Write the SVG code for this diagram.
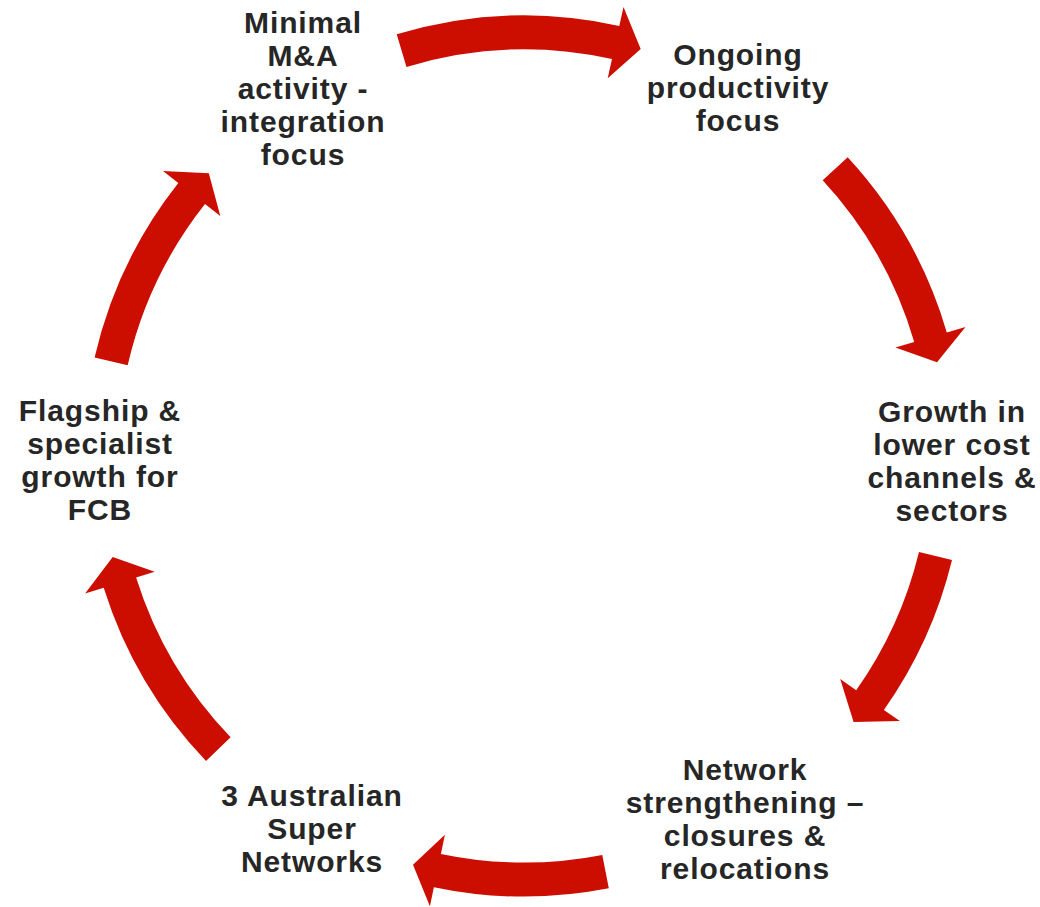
<svg xmlns="http://www.w3.org/2000/svg" width="1040" height="907" viewBox="0 0 1040 907">
  <style>
    .arrow { fill: #CC0E00; stroke: none; }
    .label { font-family: "Liberation Sans", Arial, Helvetica, sans-serif; font-size: 30px; font-weight: bold; fill: #262626; text-anchor: middle; letter-spacing: 0.9px; }
  </style>
  <rect width="1040" height="907" fill="#FFFFFF"/>

  <!-- Curved block arrows on a common circle (centre 524,456, r 423.5) -->
  <g id="connectors">
    <path id="arrow-top" class="arrow" d="M396.7,34.3 A440.5,440.5 0 0 1 619.3,25.9 L623.5,6.9 L640.7,48.9 L607.7,78.2 L612.0,59.1 A406.5,406.5 0 0 0 406.5,66.9 Z"/>
    <path id="arrow-upper-right" class="arrow" d="M847.7,157.3 A440.5,440.5 0 0 1 946.8,332.4 L965.5,326.9 L937.0,362.2 L895.4,347.4 L914.2,341.9 A406.5,406.5 0 0 0 822.7,180.3 Z"/>
    <path id="arrow-lower-right" class="arrow" d="M952.0,560.0 A440.5,440.5 0 0 1 883.9,709.9 L899.9,721.1 L853.6,722.0 L840.2,679.1 L856.2,690.3 A406.5,406.5 0 0 0 919.0,552.0 Z"/>
    <path id="arrow-bottom" class="arrow" d="M608.8,888.3 A440.5,440.5 0 0 1 433.9,887.2 L429.9,906.3 L413.0,864.7 L444.9,834.8 L440.9,853.9 A406.5,406.5 0 0 0 602.3,854.9 Z"/>
    <path id="arrow-lower-left" class="arrow" d="M206.0,760.9 A440.5,440.5 0 0 1 103.7,587.7 L85.1,593.5 L112.7,557.0 L154.7,571.7 L136.1,577.5 A406.5,406.5 0 0 0 230.6,737.3 Z"/>
    <path id="arrow-upper-left" class="arrow" d="M94.6,357.6 A440.5,440.5 0 0 1 178.3,183.0 L163.0,170.9 L208.8,173.2 L220.3,216.1 L205.0,204.1 A406.5,406.5 0 0 0 127.7,365.2 Z"/>
  </g>

  <g id="node-ma">
    <text class="label" x="303" y="33">Minimal</text>
    <text class="label" x="303" y="66">M&amp;A</text>
    <text class="label" x="303" y="99">activity -</text>
    <text class="label" x="303" y="132">integration</text>
    <text class="label" x="303" y="165">focus</text>
  </g>

  <g id="node-productivity">
    <text class="label" x="738" y="65">Ongoing</text>
    <text class="label" x="738" y="98">productivity</text>
    <text class="label" x="738" y="131">focus</text>
  </g>

  <g id="node-growth">
    <text class="label" x="952" y="422">Growth in</text>
    <text class="label" x="952" y="455">lower cost</text>
    <text class="label" x="952" y="488">channels &amp;</text>
    <text class="label" x="952" y="521">sectors</text>
  </g>

  <g id="node-network">
    <text class="label" x="745" y="780">Network</text>
    <text class="label" x="745" y="813">strengthening –</text>
    <text class="label" x="745" y="846">closures &amp;</text>
    <text class="label" x="745" y="879">relocations</text>
  </g>

  <g id="node-super">
    <text class="label" x="312" y="806">3 Australian</text>
    <text class="label" x="312" y="839">Super</text>
    <text class="label" x="312" y="872">Networks</text>
  </g>

  <g id="node-flagship">
    <text class="label" x="100" y="421">Flagship &amp;</text>
    <text class="label" x="100" y="454">specialist</text>
    <text class="label" x="100" y="487">growth for</text>
    <text class="label" x="100" y="520">FCB</text>
  </g>
</svg>
